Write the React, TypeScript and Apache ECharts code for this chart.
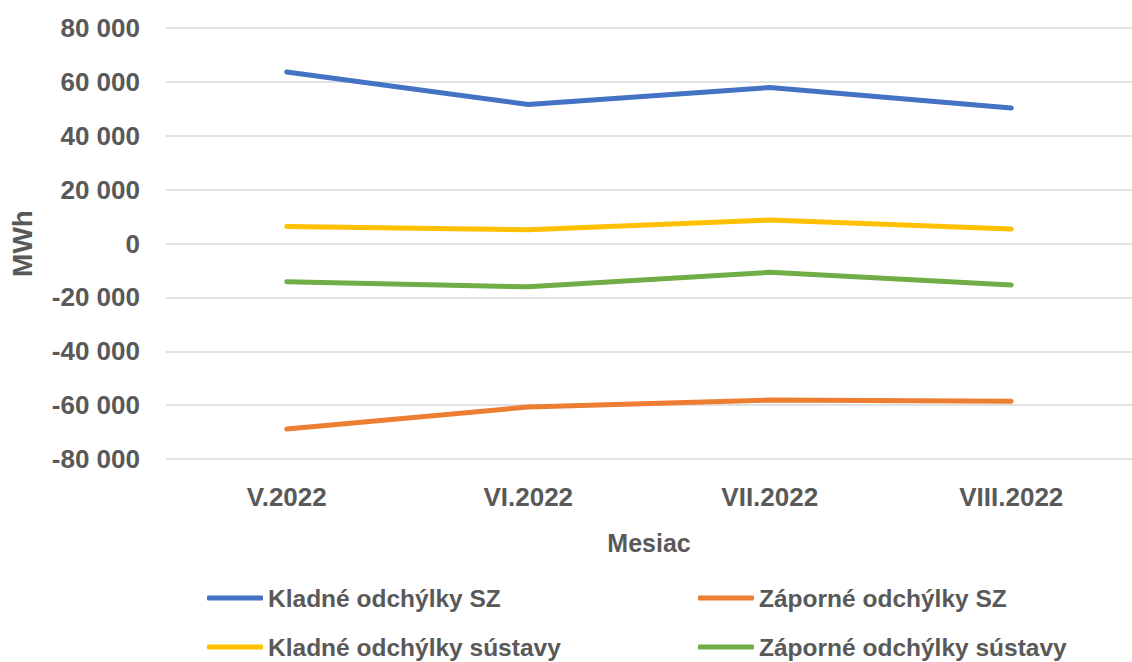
import React, { useEffect, useRef } from "react";
import * as echarts from "echarts";

const categories = ["V.2022", "VI.2022", "VII.2022", "VIII.2022"];
const seriesNames = [
  "Kladné odchýlky SZ",
  "Záporné odchýlky SZ",
  "Kladné odchýlky sústavy",
  "Záporné odchýlky sústavy",
];
const kladneSZ = [63700, 51600, 57900, 50300];
const zaporneSZ = [-68900, -60700, -58100, -58600];
const kladneSustavy = [6300, 5100, 8700, 5400];
const zaporneSustavy = [-14200, -16100, -10700, -15400];
const yTicks = { min: -80000, max: 80000, interval: 20000 };

const FONT = "'Liberation Sans', Arial, sans-serif";
const GREY = "#595959";
const COLORS = ["#4472C4", "#ED7D31", "#FFC000", "#70AD47"];

function fmt(v: number): string {
  const s = Math.abs(v).toString();
  const grouped = s.replace(/\B(?=(\d{3})+(?!\d))/g, "\u00a0");
  return (v < 0 ? "-" : "") + grouped;
}

export default function App() {
  const ref = useRef<HTMLDivElement>(null);
  useEffect(() => {
    if (!ref.current) return;
    const chart = echarts.init(ref.current, null, { renderer: "svg" });
    const values = [kladneSZ, zaporneSZ, kladneSustavy, zaporneSustavy];
    const legendText = { color: GREY, fontFamily: FONT, fontWeight: "bold", fontSize: 24.5, lineHeight: 26 };
    const legendPos = [
      { left: 207, top: 585 },
      { left: 698, top: 585 },
      { left: 207, top: 634 },
      { left: 698, top: 634 },
    ];
    chart.setOption({
      animation: false,
      backgroundColor: "#ffffff",
      grid: { left: 163, right: -20, top: 28, bottom: 203 },
      xAxis: {
        type: "category",
        data: categories,
        boundaryGap: true,
        name: "Mesiac",
        nameLocation: "middle",
        nameGap: 71,
        nameTextStyle: { color: GREY, fontFamily: FONT, fontWeight: "bold", fontSize: 25 },
        axisLine: { show: false },
        axisTick: { show: false },
        axisLabel: { color: GREY, fontFamily: FONT, fontWeight: "bold", fontSize: 26, margin: 25 },
        splitLine: { show: false },
      },
      yAxis: {
        type: "value",
        min: yTicks.min,
        max: yTicks.max,
        interval: yTicks.interval,
        name: "MWh",
        nameLocation: "middle",
        nameGap: 130,
        nameTextStyle: { color: GREY, fontFamily: FONT, fontWeight: "bold", fontSize: 28 },
        axisLine: { show: false },
        axisTick: { show: false },
        axisLabel: {
          color: GREY,
          fontFamily: FONT,
          fontWeight: "bold",
          fontSize: 26,
          margin: 26,
          formatter: (v: number) => fmt(v),
        },
        splitLine: { show: true, lineStyle: { color: "#D9D9D9", width: 1.5 } },
      },
      legend: seriesNames.map((n, i) => ({
        left: legendPos[i].left,
        top: legendPos[i].top,
        padding: 0,
        itemWidth: 56,
        itemHeight: 5,
        icon: "roundRect",
        textStyle: legendText,
        data: [n],
      })),
      series: seriesNames.map((n, i) => ({
        name: n,
        type: "line",
        data: values[i],
        symbol: "none",
        lineStyle: { color: COLORS[i], width: 5, cap: "round", join: "round" },
        itemStyle: { color: COLORS[i] },
      })),
    });
    return () => chart.dispose();
  }, []);
  return (
    <div
      ref={ref}
      style={{ position: "fixed", left: 0, top: 0, width: 1132, height: 662, background: "#fff" }}
    />
  );
}
